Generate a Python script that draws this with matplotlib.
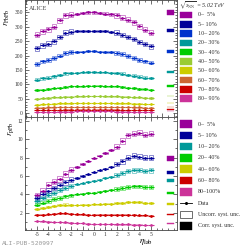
import numpy as np
import matplotlib
matplotlib.use("Agg")
import matplotlib.pyplot as plt
from matplotlib.patches import Rectangle
from matplotlib.lines import Line2D
from matplotlib.ticker import MultipleLocator

plt.rcParams['font.family'] = ['Liberation Serif', 'DejaVu Serif']
plt.rcParams['mathtext.fontset'] = 'stix'

eta = [-5.0, -4.5, -4.0, -3.5, -3.0, -2.5, -2.0, -1.5, -1.0, -0.5, 0.0,
       0.5, 1.0, 1.5, 2.0, 2.5, 3.0, 3.5, 4.0, 4.5, 5.0]

# Pb-Pb
pbpb_labels = ["0\u2013  5%", "5\u2013 10%", "10\u2013 20%", "20\u2013 30%", "30\u2013 40%",
               "40\u2013 50%", "50\u2013 60%", "60\u2013 70%", "70\u2013 80%", "80\u2013 90%"]
pbpb_colors = ['#990099', '#000099', '#0033cc', '#009999', '#00cc00',
               '#99cc33', '#cccc00', '#cc6633', '#cc0000', '#cc3399']
pbpb_0_5 = [272, 285, 292, 300, 322, 340, 342, 345, 347, 350, 350, 348, 346, 343, 340, 332, 325, 315, 302, 290, 280]
pbpb_5_10 = [225, 236, 242, 250, 265, 280, 283, 285, 286, 287, 287, 286, 285, 283, 280, 272, 265, 257, 247, 240, 232]
pbpb_10_20 = [172, 180, 185, 192, 200, 210, 212, 213, 214, 215, 215, 214, 213, 212, 210, 205, 198, 192, 186, 180, 176]
pbpb_20_30 = [117, 121, 124, 128, 133, 138, 140, 141, 142, 143, 143, 142, 142, 141, 140, 137, 133, 130, 127, 124, 122]
pbpb_30_40 = [80, 82, 84, 86, 89, 92, 93, 94, 94, 95, 95, 95, 94, 94, 93, 91, 89, 87, 85, 83, 82]
pbpb_40_50 = [51, 52, 53, 55, 56, 58, 58, 59, 59, 60, 60, 60, 59, 59, 59, 58, 57, 56, 55, 54, 53]
pbpb_50_60 = [30, 31, 32, 33, 34, 35, 35, 36, 36, 36, 36, 36, 36, 36, 35, 35, 34, 33, 33, 32, 32]
pbpb_60_70 = [19, 19, 20, 20, 21, 21, 22, 22, 22, 22, 22, 22, 22, 22, 21, 21, 21, 20, 20, 19, 19]
pbpb_70_80 = [11, 11, 12, 12, 12, 13, 13, 13, 13, 13, 13, 13, 13, 13, 13, 12, 12, 12, 12, 11, 11]
pbpb_80_90 = [5, 5, 5.5, 5.5, 6, 6, 6, 6.5, 6.5, 6.5, 6.5, 6.5, 6.5, 6.5, 6, 6, 6, 5.5, 5.5, 5, 5]
pbpb_series = [pbpb_0_5, pbpb_5_10, pbpb_10_20, pbpb_20_30, pbpb_30_40,
               pbpb_40_50, pbpb_50_60, pbpb_60_70, pbpb_70_80, pbpb_80_90]
pbpb_syst_fwd = [9, 8, 6.5, 4.5, 3, 2, 1.5, 1, 0.8, 0.5]
pbpb_syst_mid = [4, 3.5, 3, 2, 1.5, 1, 0.7, 0.5, 0.4, 0.3]
pbpb_corr = [8.5, 6, 5, 4, 2.3, 1.5, 1, 0.8, 0.6, 0.4]

# p-Pb
ppb_labels = ["0\u2013  5%", "5\u2013 10%", "10\u2013 20%", "20\u2013 40%",
              "40\u2013 60%", "60\u2013 80%", "80\u2013100%"]
ppb_colors = ['#990099', '#000099', '#009999', '#00cc00', '#cccc00', '#cc0000', '#cc3399']
ppb_0_5 = [3.9, 4.4, 5.0, 5.4, 5.7, 6.2, 6.7, 7.0, 7.3, 7.6, 7.9, 8.2, 8.5, 8.8, 9.2, 9.8, 10.4, 10.6, 10.7, 10.5, 10.6]
ppb_5_10 = [3.6, 4.0, 4.4, 4.7, 5.0, 5.3, 5.6, 5.8, 6.0, 6.2, 6.4, 6.6, 6.8, 7.0, 7.3, 7.6, 8.0, 8.2, 8.1, 8.0, 8.0]
ppb_10_20 = [3.3, 3.6, 3.9, 4.2, 4.5, 4.7, 4.9, 5.1, 5.2, 5.4, 5.5, 5.6, 5.8, 5.9, 6.1, 6.3, 6.5, 6.6, 6.7, 6.5, 6.6]
ppb_20_40 = [2.9, 3.1, 3.3, 3.5, 3.6, 3.8, 3.9, 4.0, 4.1, 4.2, 4.2, 4.3, 4.4, 4.5, 4.6, 4.7, 4.8, 4.9, 4.9, 4.8, 4.8]
ppb_40_60 = [2.4, 2.5, 2.65, 2.75, 2.85, 2.9, 2.85, 2.85, 2.9, 2.9, 2.95, 2.95, 3.0, 3.0, 3.05, 3.1, 3.15, 3.2, 3.2, 3.1, 3.1]
ppb_60_80 = [1.8, 1.8, 1.85, 1.9, 1.95, 1.95, 1.9, 1.85, 1.85, 1.8, 1.8, 1.8, 1.8, 1.8, 1.8, 1.8, 1.8, 1.8, 1.75, 1.75, 1.7]
ppb_80_100 = [1.1, 1.08, 1.05, 1.0, 1.0, 0.97, 0.93, 0.9, 0.88, 0.85, 0.83, 0.8, 0.78, 0.77, 0.76, 0.75, 0.75, 0.73, 0.72, 0.7, 0.7]
ppb_series = [ppb_0_5, ppb_5_10, ppb_10_20, ppb_20_40, ppb_40_60, ppb_60_80, ppb_80_100]
ppb_syst_fwd = [0.3, 0.25, 0.22, 0.18, 0.12, 0.06, 0.03]
ppb_syst_mid = [0.08, 0.07, 0.06, 0.05, 0.04, 0.03, 0.02]
ppb_corr = [0.25, 0.18, 0.15, 0.12, 0.08, 0.05, 0.03]

W, H = 241, 249
fig = plt.figure(figsize=(W / 100, H / 100), dpi=100)


def fx(x):
    return x / W


def fy(y):
    return 1 - y / H


L, R = 25, 176.5
ax1 = fig.add_axes([fx(L), fy(117), fx(R) - fx(L), fy(0) - fy(117)])
ax2 = fig.add_axes([fx(L), fy(229.5), fx(R) - fx(L), fy(117) - fy(229.5)])

xlo, xhi = -6.05, 7.25
bw = 0.4


def draw(ax, series, colors, s_fwd, s_mid, corr):
    x = np.array(eta)
    for vals, c, sf, sm, cr in zip(series, colors, s_fwd, s_mid, corr):
        v = np.array(vals, dtype=float)
        for xi, vi in zip(x, v):
            s = sf if (xi < -1.9 or xi > 1.7) else sm
            ax.add_patch(Rectangle((xi - bw / 2, vi - s), bw, 2 * s, fill=False,
                                   edgecolor=c, lw=0.45, alpha=0.7, zorder=2))
        ax.errorbar(x, v, xerr=0.25, yerr=None, fmt='none', ecolor=c, elinewidth=0.8, zorder=3)
        ax.plot(x, v, ls='none', marker='o', ms=1.0, color=c, zorder=4)
        v0 = v[list(eta).index(0.0)]
        ax.add_patch(Rectangle((6.45, v0 - cr), 0.55, 2 * cr, facecolor=c,
                               edgecolor=c, lw=0.3, zorder=3))


draw(ax1, pbpb_series, pbpb_colors, pbpb_syst_fwd, pbpb_syst_mid, pbpb_corr)
draw(ax2, ppb_series, ppb_colors, ppb_syst_fwd, ppb_syst_mid, ppb_corr)

for ax in (ax1, ax2):
    ax.set_xlim(xlo, xhi)
    ax.xaxis.set_major_locator(MultipleLocator(1))
    ax.xaxis.set_minor_locator(MultipleLocator(0.5))
    ax.tick_params(which='both', direction='in', top=True, right=True,
                   labelsize=4, width=0.5, pad=1.5, colors='#333333')
    ax.tick_params(which='major', length=3)
    ax.tick_params(which='minor', length=1.5)
    for sp in ax.spines.values():
        sp.set_linewidth(0.6)
        sp.set_color('#444444')

ax1.set_ylim(-13, 393)
ax1.yaxis.set_major_locator(MultipleLocator(50))
ax1.yaxis.set_minor_locator(MultipleLocator(10))
ax1.tick_params(labelbottom=False)
ax2.set_ylim(0.2, 12.4)
ax2.yaxis.set_major_locator(MultipleLocator(2))
ax2.yaxis.set_minor_locator(MultipleLocator(1))
ax2.set_xticks([-5, -4, -3, -2, -1, 0, 1, 2, 3, 4, 5])
ax2.set_xticklabels(['-5', '-4', '-3', '-2', '-1', '0', '1', '2', '3', '4', '5'])

fig.text(fx(7), fy(9), r'$r_{\rm PbPb}$', rotation=90, ha='center', va='top', fontsize=6)
fig.text(fx(11), fy(122), r'$r_{\rm pPb}$', rotation=90, ha='center', va='top', fontsize=6)
fig.text(fx(153), fy(242), r'$\eta_{\rm lab}$', ha='right', va='center', fontsize=6.5)
fig.text(fx(29), fy(8), 'ALICE', ha='left', va='center', fontsize=4.5, color='#444444')
fig.text(fx(2), fy(243), 'ALI-PUB-520997', ha='left', va='center', fontsize=4.5,
         color='#999999', family='DejaVu Sans Mono')

# top legend
fig.text(fx(179), fy(5.5), r'$\sqrt{s_{\rm NN}}$ = 5.02 TeV', ha='left', va='center',
         fontsize=4.3, style='italic', color='#333333')
for i, (lab, c) in enumerate(zip(pbpb_labels, pbpb_colors)):
    yc = 15 + i * 9.3
    fig.add_artist(Rectangle((fx(180), fy(yc + 3.3)), fx(11.5), fy(0) - fy(6.6),
                             transform=fig.transFigure, facecolor=c, edgecolor=c, lw=0.3))
    fig.text(fx(198), fy(yc), lab, ha='left', va='center', fontsize=4.3, color='#333333')

# bottom legend
for i, (lab, c) in enumerate(zip(ppb_labels, ppb_colors)):
    yc = 124 + i * 11.3
    fig.add_artist(Rectangle((fx(180), fy(yc + 3.8)), fx(11.5), fy(0) - fy(7.6),
                             transform=fig.transFigure, facecolor=c, edgecolor=c, lw=0.3))
    fig.text(fx(198), fy(yc), lab, ha='left', va='center', fontsize=4.3, color='#333333')
yd = 124 + 7 * 11.3
fig.add_artist(Line2D([fx(180), fx(192)], [fy(yd), fy(yd)], transform=fig.transFigure,
                      color='black', lw=0.6))
fig.add_artist(Line2D([fx(186)], [fy(yd)], transform=fig.transFigure, color='black',
                      marker='o', ms=1.2, ls='none'))
fig.text(fx(198), fy(yd), 'Data', ha='left', va='center', fontsize=4.3, color='#333333')
yu = yd + 11.3
fig.add_artist(Rectangle((fx(180), fy(yu + 3.8)), fx(11.5), fy(0) - fy(7.6),
                         transform=fig.transFigure, facecolor='white', edgecolor='#555555', lw=0.6))
fig.text(fx(198), fy(yu), 'Uncorr. syst. unc.', ha='left', va='center', fontsize=4.3, color='#333333')
yc2 = yu + 11.3
fig.add_artist(Rectangle((fx(180), fy(yc2 + 3.8)), fx(11.5), fy(0) - fy(7.6),
                         transform=fig.transFigure, facecolor='black', edgecolor='black', lw=0.3))
fig.text(fx(198), fy(yc2), 'Corr. syst. unc.', ha='left', va='center', fontsize=4.3, color='#333333')

fig.savefig('out.png', dpi=100)
